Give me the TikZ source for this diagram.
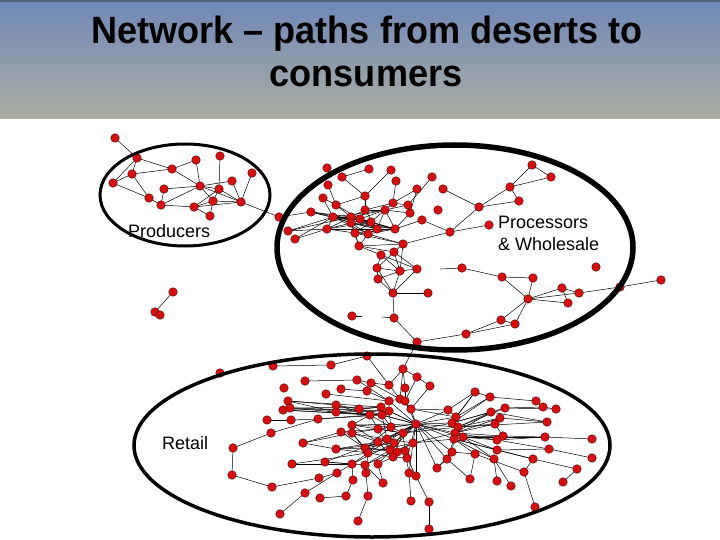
\documentclass[tikz,border=0pt]{standalone}
\usepackage{fontspec}
\setmainfont{Liberation Sans}
\definecolor{dotred}{HTML}{D61010}
\definecolor{dotdark}{HTML}{6A0000}
\definecolor{bantop}{HTML}{7088B8}
\definecolor{banbot}{HTML}{AAAEA2}
\definecolor{banline}{HTML}{56657C}
\tikzset{
  dot/.style={circle,inner sep=0pt,minimum size=8.5pt,fill=dotred,draw=dotdark,line width=0.5pt},
  edge/.style={draw=black,line width=0.5pt},
  lbl/.style={inner sep=0pt,font=\fontsize{18}{20}\selectfont},
  titletext/.style={inner sep=0pt,align=center,font=\fontsize{38}{43}\selectfont\bfseries}
}
\def\nodelist{p1/115/138, p2/137/158, p3/196/160, p4/220/156, p5/172/169, p6/132/174, p7/113/183, p8/252/173, p9/232/181, p10/200/186, p11/164/189, p12/219/189, p13/149/198, p14/213/201, p15/241/202, p16/161/205, p17/194/207, p18/210/216, p19/279/217,
s1/173/292, s2/155/312, s3/160/315,
q1/327/168, q2/369/169, q3/391/170, q4/342/177, q5/396/181, q6/432/177, q7/328/185, q8/417/189, q9/443/189, q10/323/198, q11/365/196, q12/336/205, q13/393/203, q14/408/205, q15/438/210, q16/311/212, q17/365/210, q18/385/210, q19/410/213, q20/333/217, q21/351/217, q22/360/219, q23/422/220, q24/351/223, q25/371/222, q26/377/229, q27/395/229, q28/327/229, q29/288/231, q30/355/233, q31/368/234, q32/295/239, q33/359/246, q34/403/244, q35/450/232, q36/479/207, q37/510/187, q38/519/201, q39/532/165, q40/551/177, q41/489/225, q42/394/252, q43/381/255, q44/377/268, q45/400/271, q46/417/269, q47/378/279, q48/393/293, q49/428/293, q50/352/316, q51/394/318, q52/417/342, q53/466/334, q54/462/268, q55/502/277, q56/533/278, q57/528/299, q58/562/288, q59/579/293, q60/568/303, q61/501/320, q62/515/324, q63/596/267, q64/661/280, q65/620/287,
r1/220/373, r2/273/366, r3/331/365, r4/367/356, r5/403/369, r6/417/377, r7/305/381, r8/357/380, r9/371/383, r10/389/385, r11/430/386, r12/284/388, r13/341/389, r14/367/391, r15/405/388, r16/326/394, r17/389/401, r18/400/399, r19/405/401, r20/288/401, r21/336/405, r22/359/409, r23/381/407, r24/411/409, r25/283/410, r26/290/408, r27/336/412, r28/389/411, r29/370/415, r30/382/415, r31/267/420, r32/291/420, r33/318/419, r34/416/424, r35/352/425, r36/391/427, r37/378/429, r38/341/432, r39/352/433, r40/403/433, r41/271/433, r42/387/439, r43/378/442, r44/394/443, r45/413/443, r46/303/443, r47/233/448, r48/336/449, r49/365/448, r50/390/450, r51/397/452, r52/405/451, r53/368/453, r54/407/458, r55/393/457, r56/292/464, r57/325/462, r58/352/464, r59/365/465, r60/378/464, r61/337/473, r62/366/473, r63/409/473, r64/416/476, r65/232/475, r66/319/478, r67/353/480, r68/383/483, r69/272/487, r70/305/493, r71/320/498, r72/346/496, r73/368/496, r74/411/501, r75/429/502, r76/280/514, r77/358/521, r78/429/529,
r79/475/392, r80/490/397, r81/536/401, r82/543/407, r83/556/409, r84/505/408, r85/491/412, r86/448/410, r87/456/417, r88/500/418, r89/547/422, r90/452/423, r91/495/424, r92/458/427, r93/455/433, r94/463/437, r95/454/439, r96/503/436, r97/497/440, r98/545/437, r99/592/439, r100/497/450, r101/549/449, r102/452/452, r103/475/454, r104/447/459, r105/494/459, r106/533/459, r107/592/458, r108/437/468, r109/524/472, r110/577/469, r111/470/479, r112/497/481, r113/511/486, r114/563/482, r115/535/507}
\begin{document}
\begin{tikzpicture}[x=1pt,y=-1pt]
\useasboundingbox (0,0) rectangle (720,540);
\fill[white] (0,0) rectangle (720,540);
% banner
\shade[top color=bantop,bottom color=banbot] (0,0) rectangle (720,119);
\fill[banline] (0,0) rectangle (720,2.5);
\node[titletext] (title1) at (367,44) [anchor=base] {\scalebox{0.95}[1]{Network – paths from deserts to}};
\node[titletext] (title2) at (366,87) [anchor=base] {\scalebox{0.95}[1]{consumers}};
% positions
\foreach \n/\x/\y in \nodelist { \coordinate (\n) at (\x,\y); }
\coordinate (qs1) at (440,269);
\coordinate (qs2) at (362,316);
\coordinate (qs3) at (382,317);
% edges
\foreach \a/\b in {p1/p2, p2/p6, p2/p5, p2/p7, p6/p7, p6/p5, p5/p3, p3/p10, p5/p10, p4/p12, p6/p13, p7/p13, p13/p16, p11/p16, p11/p10, p16/p10, p16/p17, p17/p14, p17/p15, p17/p18, p10/p12, p10/p9, p10/p14, p12/p15, p9/p15, p14/p15, p8/p15, p14/p18, p15/p19, p10/p15, p12/p14, p17/p12, p19/q16, s1/s2, s2/s3}
  { \draw[edge] (\a) -- (\b); }
\foreach \a/\b in {q4/q2, q4/q11, q3/q11, q7/q12, q10/q12, q10/q20, q11/q17, q11/q12, q5/q13, q8/q13, q6/q14, q8/q19, q13/q17, q13/q18, q13/q14, q14/q18, q18/q19, q17/q18, q16/q20, q16/q21, q20/q21, q20/q22, q21/q22, q22/q25, q21/q25, q17/q22, q17/q21, q24/q26, q22/q26, q25/q26, q26/q27, q27/q18, q27/q19, q23/q27, q20/q24, q24/q30, q30/q31, q31/q26, q28/q20, q28/q21, q28/q24, q29/q20, q29/q28, q32/q28, q32/q20, q30/q33, q31/q33, q33/q34, q33/q42, q33/q43, q34/q35, q34/q42, q34/q45, q42/q45, q42/q46, q43/q44, q43/q45, q44/q45, q44/q47, q45/q46, q45/q47, q42/q44, q44/q48, q45/q48, q46/q48, q47/q48, q43/q46, q48/q49, q48/q51, q51/q52, q52/q53, q53/q61, q53/q62, q61/q62, q61/q57, q62/q57, q57/q55, q57/q56, q55/q56, q55/q54, q57/q58, q57/q59, q57/q60, q58/q59, q58/q60, q59/q65, q65/q64, q35/q41, q35/q36, q35/q23, q36/q9, q36/q37, q36/q38, q37/q38, q37/q39, q37/q40, q39/q40, q21/q27, q22/q27, q25/q18, q26/q18, q30/q27, q30/q25, q31/q27, q24/q27, q21/q18, q20/q18, q20/q25, q20/q27, q28/q25, q28/q26, q29/q21, q12/q21, q12/q22, q16/q25, q16/q26, q28/q30, q20/q31, q24/q31, q21/q26, q22/q18, q25/q27, q17/q26, q31/q34, q30/q34, q24/q33, q54/qs1, q50/qs2, q51/qs3, q52/r5}
  { \draw[edge] (\a) -- (\b); }
\foreach \a/\b in {r2/r3, r3/r4, r4/r10, r5/r10, r5/r6, r5/r15, r5/r18, r6/r11, r6/r19, r7/r8, r8/r9, r9/r10, r13/r14, r14/r17, r16/r17, r8/r17, r9/r18, r10/r18, r11/r24, r15/r19, r17/r18, r18/r19, r19/r24, r20/r21, r20/r27, r25/r22, r26/r23, r21/r22, r22/r23, r23/r17, r27/r28, r25/r29, r26/r28, r20/r23, r25/r30, r26/r29, r21/r29, r27/r30, r27/r23, r31/r32, r32/r33, r33/r29, r33/r30, r41/r33, r47/r41, r47/r65, r65/r69, r69/r66, r46/r38, r46/r39, r35/r36, r35/r34, r38/r37, r39/r36, r37/r34, r36/r34, r24/r34, r19/r34, r28/r34, r30/r34, r29/r36, r42/r34, r43/r34, r44/r34, r45/r34, r40/r34, r22/r34, r23/r34, r17/r34, r18/r24, r28/r36, r29/r37, r30/r36, r37/r40, r36/r40, r35/r40, r38/r42, r39/r43, r48/r49, r48/r53, r56/r58, r57/r59, r57/r58, r58/r53, r59/r50, r60/r55, r53/r55, r49/r50, r49/r51, r50/r52, r51/r52, r52/r54, r54/r55, r55/r43, r53/r43, r49/r42, r50/r44, r51/r45, r61/r58, r62/r59, r62/r53, r63/r52, r64/r54, r66/r61, r67/r58, r68/r60, r70/r61, r71/r72, r72/r67, r73/r62, r73/r77, r74/r63, r75/r64, r75/r78, r76/r70, r68/r59, r63/r45, r64/r34, r49/r34, r53/r34, r50/r40, r52/r40, r58/r44, r59/r45, r60/r34, r48/r44, r49/r44, r53/r45, r55/r40, r54/r34, r42/r45, r43/r40, r49/r36, r48/r43, r57/r43, r56/r53, r46/r48, r38/r49, r39/r49, r39/r53, r35/r43, r37/r50, r29/r35, r30/r42}
  { \draw[edge] (\a) -- (\b); }
\foreach \a/\b in {r34/r86, r34/r87, r34/r90, r34/r92, r34/r93, r34/r95, r34/r94, r34/r102, r34/r104, r34/r108, r24/r86, r24/r87, r45/r93, r45/r95, r40/r92, r40/r90, r86/r79, r87/r80, r90/r84, r90/r85, r92/r88, r92/r91, r93/r96, r93/r97, r94/r100, r94/r97, r95/r105, r95/r103, r102/r103, r104/r111, r95/r106, r94/r98, r94/r96, r92/r89, r80/r81, r81/r82, r82/r83, r84/r82, r85/r89, r88/r89, r96/r98, r98/r99, r97/r101, r101/r107, r100/r106, r106/r109, r106/r110, r110/r114, r103/r111, r105/r112, r109/r115, r105/r113, r104/r108, r102/r108, r87/r79, r90/r80, r92/r85, r93/r88, r92/r84, r93/r91, r95/r100, r94/r105, r87/r90, r90/r92, r92/r93, r93/r95, r95/r94, r102/r95, r104/r95, r86/r87, r79/r80, r84/r83, r91/r96, r97/r98, r100/r101, r103/r109, r90/r79, r93/r85}
  { \draw[edge] (\a) -- (\b); }
% dots
\foreach \n/\x/\y in \nodelist { \node[dot] (d\n) at (\n) {}; }
% ellipses
\draw[line width=3pt] (185,195) ellipse [x radius=85pt, y radius=51pt];
\draw[line width=5.5pt] (455,247.5) ellipse [x radius=178pt, y radius=102.5pt];
\draw[line width=3.5pt] (372,445.5) ellipse [x radius=238pt, y radius=91.5pt];
% labels
\node[lbl,anchor=base west] (lprod) at (128,237) {Producers};
\node[lbl,anchor=base west] (lproc1) at (498,229) {Processors};
\node[lbl,anchor=base west] (lproc2) at (498,251) {\& Wholesale};
\node[lbl,anchor=base west] (lret) at (162,449) {Retail};
\end{tikzpicture}
\end{document}
